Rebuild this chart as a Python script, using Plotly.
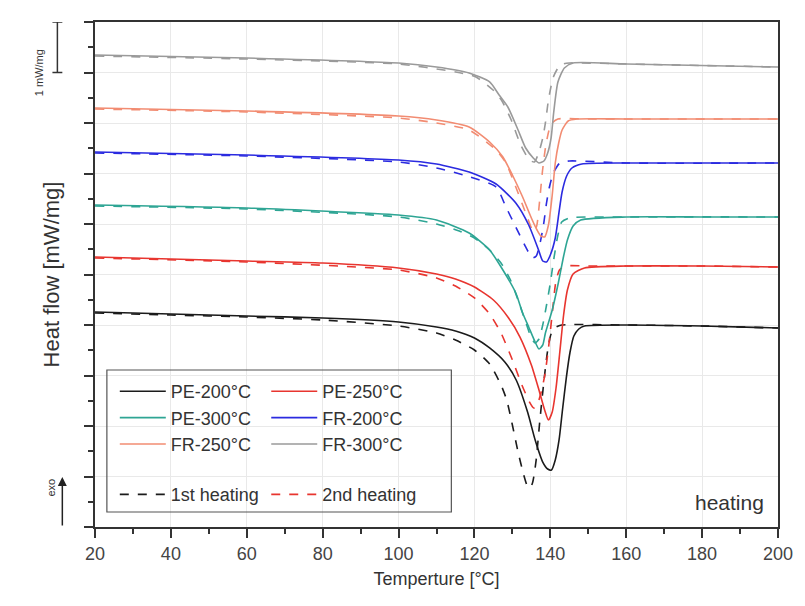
import plotly.graph_objects as go

# ---------------- data (temperature °C, heat flow mW/mg with vertical offsets) -------------
T_pe200 = [20, 40, 60, 80, 100, 110, 115, 120, 124, 128, 131, 134, 136, 138, 139.3, 140.3, 141.3, 142.3, 143.2, 144.2, 145.2, 146.2, 147.5, 149, 160, 180, 200]
Q_pe200 = [4.257, 4.218, 4.178, 4.139, 4.059, 3.960, 3.881, 3.743, 3.545, 3.267, 2.911, 2.277, 1.723, 1.287, 1.149, 1.129, 1.327, 1.723, 2.317, 2.950, 3.465, 3.782, 3.921, 3.980, 4.000, 3.980, 3.941]
T_pe200_1 = [20, 40, 60, 80, 100, 110, 115, 120, 124, 127, 128.5, 130, 131.5, 133, 134.2, 135.2, 136.2, 137.2, 138.2, 139.2, 140.2, 141.5, 143, 160, 180, 200]
Q_pe200_1 = [4.238, 4.198, 4.158, 4.099, 3.980, 3.842, 3.703, 3.505, 3.228, 2.812, 2.515, 2.020, 1.485, 1.030, 0.772, 0.851, 1.287, 2.079, 2.812, 3.446, 3.822, 3.960, 4.000, 4.000, 3.980, 3.941]

T_pe250 = [20, 40, 60, 80, 100, 110, 115, 120, 125, 129, 132, 135, 137, 138.5, 139.5, 140.5, 141.5, 142.5, 143.5, 144.5, 146, 149, 160, 180, 200]
Q_pe250 = [5.347, 5.307, 5.267, 5.228, 5.129, 5.010, 4.911, 4.752, 4.495, 4.139, 3.762, 3.208, 2.713, 2.317, 2.119, 2.277, 2.752, 3.465, 4.198, 4.693, 5.010, 5.129, 5.168, 5.168, 5.149]
T_pe250_1 = [20, 60, 100, 110, 115, 120, 124, 127, 130, 132.5, 134.5, 135.6, 136.6, 137.6, 138.6, 139.6, 140.6, 141.4, 142.4, 144, 150, 180, 200]
Q_pe250_1 = [5.327, 5.248, 5.089, 4.931, 4.772, 4.535, 4.218, 3.842, 3.307, 2.812, 2.475, 2.356, 2.436, 2.673, 3.030, 3.604, 4.297, 4.832, 5.089, 5.168, 5.168, 5.168, 5.149]

T_pe300 = [20, 60, 100, 110, 118.6, 124, 127.5, 130.9, 132.7, 134.3, 136, 137, 138, 138.7, 140.5, 142.1, 143.4, 144.5, 146, 148, 160, 180, 200]
Q_pe300 = [6.376, 6.317, 6.178, 6.079, 5.822, 5.485, 5.089, 4.634, 4.238, 3.960, 3.663, 3.525, 3.604, 3.842, 4.297, 4.832, 5.327, 5.683, 5.960, 6.079, 6.139, 6.139, 6.139]
T_pe300_1 = [20, 60, 100, 110, 116, 120, 124, 127, 129.5, 131.5, 133.5, 135, 136, 137, 138, 139, 140, 141, 142, 143, 145, 160, 200]
Q_pe300_1 = [6.356, 6.297, 6.139, 6.000, 5.861, 5.723, 5.485, 5.228, 4.891, 4.495, 4.059, 3.743, 3.644, 3.723, 4.000, 4.396, 4.832, 5.347, 5.782, 6.040, 6.119, 6.139, 6.139]

T_fr200 = [20, 60, 100, 110, 118.6, 125.7, 130.9, 134.3, 136.9, 138, 139, 140, 141.3, 142.3, 143.1, 144.3, 145.7, 148.3, 160, 200]
Q_fr200 = [7.426, 7.366, 7.267, 7.188, 7.030, 6.792, 6.416, 5.980, 5.485, 5.267, 5.248, 5.386, 5.723, 6.238, 6.634, 6.950, 7.109, 7.188, 7.208, 7.208]
T_fr200_1 = [20, 60, 100, 110, 118, 125.7, 128.3, 130.9, 133.5, 135.3, 136.3, 137.3, 138.2, 139, 139.7, 140.8, 142.5, 145, 160, 200]
Q_fr200_1 = [7.406, 7.347, 7.228, 7.109, 6.950, 6.733, 6.337, 5.941, 5.545, 5.327, 5.366, 5.624, 5.980, 6.416, 6.713, 7.010, 7.208, 7.248, 7.208, 7.208]

T_fr250 = [20, 60, 100, 110, 118.6, 124, 127.5, 130, 132.7, 135, 136.5, 137.5, 138.5, 139.5, 140.5, 141.3, 142.2, 143.1, 144.7, 147, 160, 200]
Q_fr250 = [8.297, 8.238, 8.139, 8.059, 7.921, 7.624, 7.327, 6.970, 6.535, 6.119, 5.881, 5.762, 5.743, 5.980, 6.574, 7.208, 7.604, 7.861, 8.040, 8.079, 8.079, 8.079]
T_fr250_1 = [20, 60, 100, 110, 118.6, 125.7, 128.3, 130.9, 133.5, 135.6, 136.4, 137.2, 137.9, 138.7, 139.6, 140.5, 142, 150, 200]
Q_fr250_1 = [8.277, 8.218, 8.099, 8.000, 7.861, 7.465, 7.208, 6.733, 6.218, 5.842, 5.960, 6.475, 7.030, 7.505, 7.842, 8.000, 8.079, 8.079, 8.079]

T_fr300 = [20, 60, 100, 110, 118.6, 124, 126.5, 128.8, 131.5, 133.5, 135.5, 137, 138.3, 139.3, 140.2, 140.9, 142, 143.7, 146, 160, 200]
Q_fr300 = [9.347, 9.287, 9.188, 9.109, 8.990, 8.812, 8.554, 8.317, 7.861, 7.505, 7.307, 7.208, 7.248, 7.406, 7.703, 8.218, 8.812, 9.089, 9.188, 9.168, 9.109]
T_fr300_1 = [20, 60, 100, 115, 120.4, 124.9, 127.1, 129.7, 132.2, 134.5, 135.8, 137, 138, 138.7, 139.5, 140.8, 142.6, 145, 160, 200]
Q_fr300_1 = [9.327, 9.267, 9.168, 9.010, 8.911, 8.653, 8.455, 8.059, 7.564, 7.267, 7.228, 7.426, 7.703, 8.000, 8.455, 8.911, 9.149, 9.188, 9.168, 9.109]

series_names = ["PE-200°C", "PE-250°C", "PE-300°C", "FR-200°C", "FR-250°C", "FR-300°C"]
x_ticks = [20, 40, 60, 80, 100, 120, 140, 160, 180, 200]

# ---------------- figure ----------------
colors = ["#1b1b1b", "#e8352f", "#2ea594", "#2b2be0", "#f28c72", "#9a9a9a"]
solid = [(T_pe200, Q_pe200), (T_pe250, Q_pe250), (T_pe300, Q_pe300),
         (T_fr200, Q_fr200), (T_fr250, Q_fr250), (T_fr300, Q_fr300)]
dashed = [(T_pe200_1, Q_pe200_1), (T_pe250_1, Q_pe250_1), (T_pe300_1, Q_pe300_1),
          (T_fr200_1, Q_fr200_1), (T_fr250_1, Q_fr250_1), (T_fr300_1, Q_fr300_1)]
legend_of = ["legend", "legend2", "legend", "legend2", "legend", "legend2"]

fig = go.Figure()
for i, name in enumerate(series_names):
    tx, qy = dashed[i]
    fig.add_trace(go.Scatter(x=tx, y=qy, mode="lines", showlegend=False,
                             line=dict(color=colors[i], width=1.6, dash="dash", shape="spline", smoothing=0.6),
                             hoverinfo="skip"))
for i, name in enumerate(series_names):
    tx, qy = solid[i]
    fig.add_trace(go.Scatter(x=tx, y=qy, mode="lines", name=name, legend=legend_of[i], legendgroup="a",
                             line=dict(color=colors[i], width=1.6, shape="spline", smoothing=0.6)))

fig.add_trace(go.Scatter(x=[None], y=[None], mode="lines", name="1st heating", legend="legend",
                         legendgroup="b", line=dict(color="#1b1b1b", width=1.6, dash="dash")))
fig.add_trace(go.Scatter(x=[None], y=[None], mode="lines", name="2nd heating", legend="legend2",
                         legendgroup="b", line=dict(color="#e8352f", width=1.6, dash="dash")))

FONT = "Liberation Sans, Arial, sans-serif"
leg_common = dict(bgcolor="rgba(0,0,0,0)", borderwidth=0, tracegroupgap=24, itemwidth=46,
                  font=dict(family=FONT, size=18, color="#333"), yanchor="top", xanchor="left",
                  traceorder="grouped")

fig.update_layout(
    width=805, height=606,
    margin=dict(l=95, r=20, t=22, b=79),
    paper_bgcolor="white", plot_bgcolor="white",
    font=dict(family=FONT, color="#333"),
    legend=dict(x=20/690, y=0.305, **leg_common),
    legend2=dict(x=173/690, y=0.305, **leg_common),
    xaxis=dict(range=[20, 200], tickvals=x_ticks, ticks="outside", ticklen=9, tickwidth=1.5,
               tickcolor="#333", showline=True, linecolor="#333", linewidth=2, mirror=True,
               showgrid=True, gridcolor="#e9e9e9", gridwidth=1, zeroline=False,
               tickfont=dict(family=FONT, size=18, color="#444"),
               minor=dict(dtick=10, ticks="outside", ticklen=5, tickwidth=1.5, tickcolor="#333", showgrid=False),
               title=dict(text="Temperture [°C]", font=dict(family=FONT, size=18, color="#333"), standoff=10)),
    yaxis=dict(range=[0, 10], dtick=1, tick0=0, ticks="outside", ticklen=9, tickwidth=1.5,
               tickcolor="#333", showticklabels=False, showline=True, linecolor="#333", linewidth=2,
               mirror=True, showgrid=True, gridcolor="#e9e9e9", gridwidth=1, zeroline=False,
               minor=dict(dtick=0.5, ticks="outside", ticklen=5, tickwidth=1.5, tickcolor="#333", showgrid=False),
               title=dict(text="Heat flow [mW/mg]", font=dict(family=FONT, size=22, color="#333"), standoff=18)),
)

# legend frame
fig.add_shape(type="rect", xref="paper", yref="paper", x0=12/690, x1=360/690, y0=15/505, y1=157/505,
              line=dict(color="#555", width=1.2), fillcolor="rgba(0,0,0,0)", layer="above")

# scale bar 1 mW/mg
sx = -38/690
fig.add_shape(type="line", xref="paper", yref="y", x0=sx, x1=sx, y0=9, y1=10, line=dict(color="#333", width=1.5))
fig.add_shape(type="line", xref="paper", yref="y", x0=sx-5/690, x1=sx+5/690, y0=10, y1=10, line=dict(color="#333", width=1.5))
fig.add_shape(type="line", xref="paper", yref="y", x0=sx-5/690, x1=sx+5/690, y0=9, y1=9, line=dict(color="#333", width=1.5))
fig.add_annotation(xref="paper", yref="paper", x=-65/690, y=(527-47)/505, text="1 mW/mg", textangle=-90,
                   showarrow=False, font=dict(family=FONT, size=11, color="#333"))

# exo arrow
fig.add_annotation(xref="paper", yref="paper", x=-33/690, y=50/505, ax=0, ay=50,
                   text="", showarrow=True, arrowhead=2, arrowsize=1.2, arrowwidth=1.5, arrowcolor="#222")
fig.add_annotation(xref="paper", yref="paper", x=-53/690, y=28/505, text="exo", textangle=-90,
                   showarrow=False, font=dict(family=FONT, size=11, color="#333"))

# "heating" label
fig.add_annotation(xref="paper", yref="paper", x=678/690, y=25/505, xanchor="right", yanchor="middle",
                   text="heating", showarrow=False, font=dict(family=FONT, size=21, color="#333"))

fig.write_html("out.html")
